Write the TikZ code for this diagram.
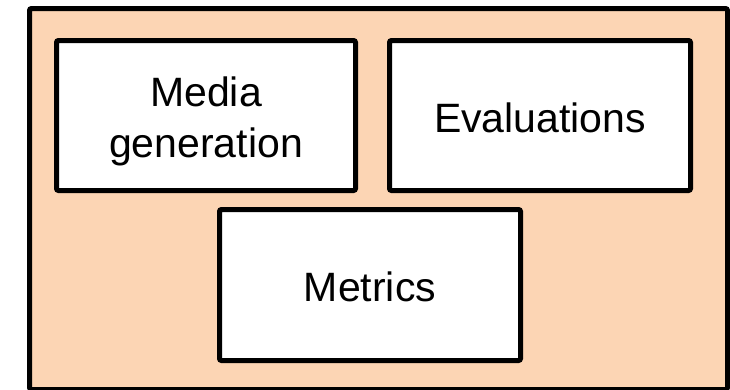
\documentclass[tikz,border=0pt]{standalone}
\usepackage{fontspec}
\setmainfont{Liberation Sans}
\definecolor{peach}{HTML}{FCD5B4}
\begin{document}
\begin{tikzpicture}[x=1pt,y=-1pt,
  framebox/.style={draw, line width=5pt, rounded corners=2pt, fill=peach,
    inner sep=0pt, minimum width=698pt, minimum height=381pt},
  panel/.style={draw, line width=5pt, rounded corners=2pt, fill=white,
    inner sep=0pt, align=center, minimum height=150pt,
    font=\fontsize{41}{51}\selectfont},
]
\useasboundingbox (0,0) rectangle (730,389);
% surrounding frame
\node[framebox] (frame) at (378.5,199) {};
% the three component boxes
\node[panel, minimum width=299pt, text height=93pt] (media) at (206,115.5) {Media\\generation};
\node[panel, minimum width=301pt, text height=35pt] (eval) at (540,115.5) {Evaluations};
\node[panel, minimum width=301pt, minimum height=151pt, text height=34pt] (metrics) at (370,285) {Metrics};
\end{tikzpicture}
\end{document}
